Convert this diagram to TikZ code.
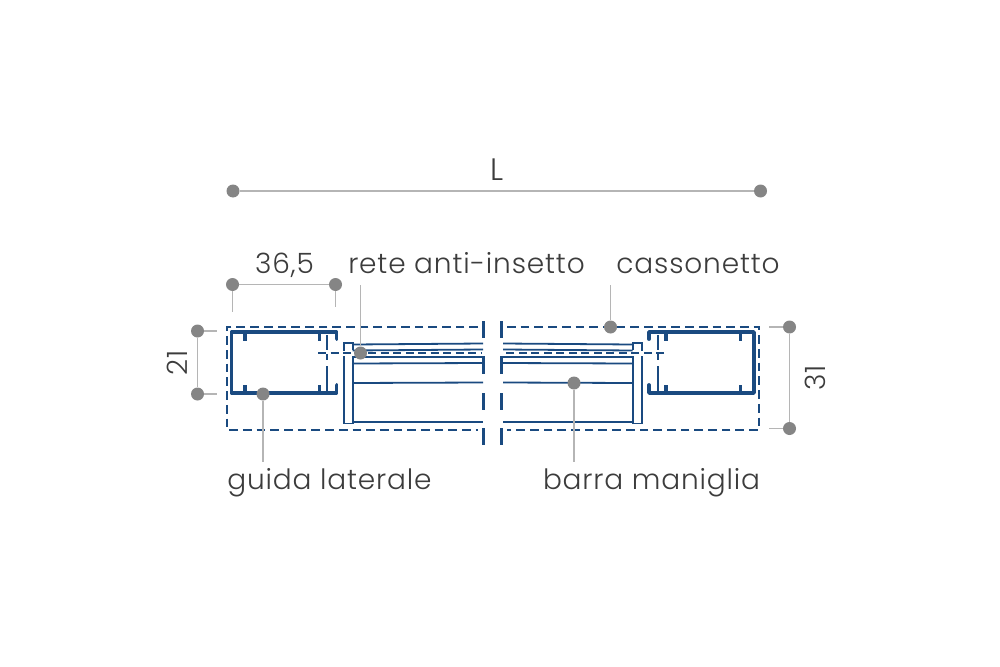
\documentclass[tikz,border=0pt]{standalone}
\usepackage{fontspec}
\setmainfont{Poppins}[UprightFont=* Light,LetterSpace=3]
\definecolor{bl}{HTML}{1A4A80}
\definecolor{dotc}{HTML}{858585}
\definecolor{linec}{HTML}{B5B5B5}
\definecolor{txt}{HTML}{3C3C3C}
\tikzset{
 dotn/.style={circle,fill=dotc,draw=none,minimum size=13pt,inner sep=0pt},
 dim/.style={draw=linec,line width=1.1pt},
 lab/.style={text=txt,font=\fontsize{28}{30}\selectfont,inner sep=0pt,anchor=base},
 prof/.style={draw=bl,line width=3.8pt,line cap=round,line join=round},
 tick/.style={draw=bl,line width=3.2pt},
 thin/.style={draw=bl,line width=1.8pt},
 dsh/.style={draw=bl,line width=2.2pt,dash pattern=on 8.7pt off 5pt},
 cdsh/.style={draw=bl,line width=1.7pt,dash pattern=on 8pt off 4.5pt},
 brk/.style={draw=bl,line width=3.2pt},
}
\begin{document}
\begin{tikzpicture}[x=1pt,y=-1pt]
\useasboundingbox (0,0) rectangle (1000,666);
% dashed outline
\draw[dsh] (478,327) -- (227,327) -- (227,430) -- (478,430);
\draw[dsh] (507,327) -- (759,327) -- (759,430) -- (507,430);
% break marks
\foreach \x in {483.5,501.5}{
 \foreach \a/\b in {321/338,356/374,393/410,428/445}{\draw[brk] (\x,\a) -- (\x,\b);}
}
% left profile
\draw[prof] (336.5,339) -- (336.5,332) -- (231.5,332) -- (231.5,393) -- (336.5,393) -- (336.5,385);
\foreach \x in {245,319.5}{\draw[tick] (\x,332) -- (\x,341); \draw[tick] (\x,393) -- (\x,385);}
% right profile
\draw[prof] (649,339) -- (649,332) -- (754,332) -- (754,393) -- (649,393) -- (649,385);
\foreach \x in {666,740.5}{\draw[tick] (\x,332) -- (\x,341); \draw[tick] (\x,393) -- (\x,385);}
% thin verticals
\foreach \x in {327,658}{
 \draw[thin] (\x,335) -- (\x,350); \draw[thin] (\x,354) -- (\x,360); \draw[thin] (\x,366) -- (\x,391);
}
% mesh lines, left
\draw[thin] (352.5,344.5) -- (483,343.5);
\draw[thin] (352.5,350.5) -- (483,349.5);
\draw[thin] (352.5,357) -- (483,357);
\draw[thin] (352.5,363.5) -- (483,363);
\draw[thin] (352.5,383) -- (483,382.5);
\draw[thin] (352.5,422) -- (483,422);
% mesh lines, right
\draw[thin] (503,343.5) -- (632.5,344.5);
\draw[thin] (503,349.5) -- (632.5,350.5);
\draw[thin] (503,357) -- (632.5,357);
\draw[thin] (503,363) -- (632.5,363.5);
\draw[thin] (503,382.5) -- (632.5,383);
\draw[thin] (503,422) -- (632.5,422);
% narrow frames
\draw[thin] (344,351) -- (344,343) -- (352.7,343) -- (352.7,350);
\draw[thin] (344,356) -- (344,423.5) -- (352.7,423.5) -- (352.7,356);
\draw[thin] (632.7,350) -- (632.7,343) -- (641.7,343) -- (641.7,351);
\draw[thin] (641.7,356) -- (641.7,423.5) -- (632.7,423.5) -- (632.7,356);
% dashed centre lines
\draw[cdsh] (318,353) -- (482,353);
\draw[cdsh] (664,353) -- (504,353);
% dots
\node[dotn] (la) at (233,191) {};
\node[dotn] (lb) at (760.5,191) {};
\node[dotn] (wa) at (232.5,284.5) {};
\node[dotn] (wb) at (335.5,284.5) {};
\node[dotn] (ha) at (197.5,331) {};
\node[dotn] (hb) at (197.5,394) {};
\node[dotn] (ka) at (789.5,327) {};
\node[dotn] (kb) at (789.5,428.5) {};
\node[dotn] (gu) at (263,394) {};
\node[dotn] (re) at (360.5,353) {};
\node[dotn] (ca) at (610.5,327) {};
\node[dotn] (ba) at (574,383) {};
% free ends
\coordinate (wa1) at (232.5,312);
\coordinate (wb1) at (335.5,307);
\coordinate (ha1) at (217,331);
\coordinate (hb1) at (217,394);
\coordinate (ka1) at (769,327);
\coordinate (kb1) at (769,428.5);
\coordinate (gu1) at (263,462);
\coordinate (re1) at (360.5,285);
\coordinate (ca1) at (610.5,285);
\coordinate (ba1) at (574,462);
% connectors
\draw[dim] (la) -- (lb);
\draw[dim] (wa) -- (wb);
\draw[dim] (wa) -- (wa1);
\draw[dim] (wb) -- (wb1);
\draw[dim] (ha) -- (hb);
\draw[dim] (ha) -- (ha1);
\draw[dim] (hb) -- (hb1);
\draw[dim] (ka) -- (kb);
\draw[dim] (ka) -- (ka1);
\draw[dim] (kb) -- (kb1);
\draw[dim] (gu) -- (gu1);
\draw[dim] (re) -- (re1);
\draw[dim] (ca) -- (ca1);
\draw[dim] (ba) -- (ba1);
% labels
\node[lab,font=\fontsize{31}{33}\selectfont] (tl) at (497.5,180.5) {L};
\node[lab] (t1) at (284.5,273) {36,5};
\node[lab] (t2) at (466.5,273) {rete anti-insetto};
\node[lab] (t3) at (698,273) {cassonetto};
\node[lab,rotate=90] (t4) at (187,362.5) {21};
\node[lab,rotate=90] (t5) at (825,378) {31};
\node[lab] (t6) at (329.5,489) {guida laterale};
\node[lab] (t7) at (651.5,489) {barra maniglia};
\end{tikzpicture}
\end{document}
